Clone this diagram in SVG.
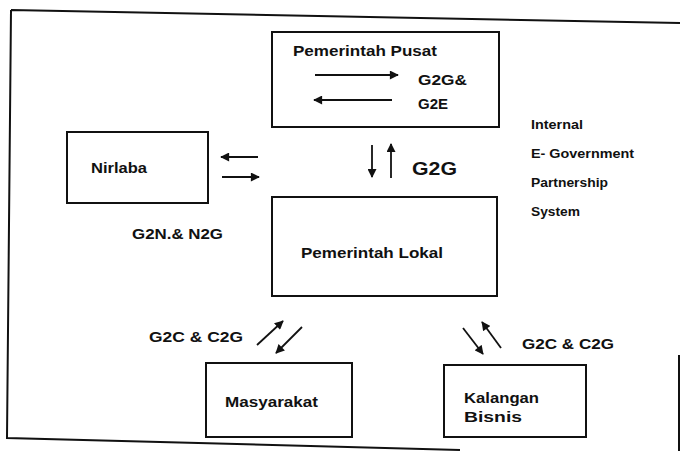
<svg xmlns="http://www.w3.org/2000/svg" width="680" height="451" viewBox="0 0 680 451">
<style>
.box{fill:#fff;stroke:#111;stroke-width:2}
.t{font-family:"Liberation Sans",Arial,sans-serif;font-weight:bold;font-size:15px;fill:#111}
.s{font-size:13.5px}
.big{font-size:19px}
.c{stroke:#111;stroke-width:1.8;fill:none;marker-end:url(#ah)}
</style>
<defs>
<marker id="ah" viewBox="0 0 10 10" refX="9" refY="5" markerWidth="5.5" markerHeight="5" orient="auto" markerUnits="strokeWidth">
<path d="M0,0 L10,5 L0,10 z" fill="#111"/>
</marker>
</defs>
<rect width="680" height="451" fill="#fff"/>
<path d="M11,10 L680,23 M11,10 L7,438 L460,450 M679,355 L679,451" fill="none" stroke="#111" stroke-width="2"/>
<g id="pusat">
<rect class="box" x="272" y="32" width="227" height="95"/>
<text class="t" x="293" y="56" textLength="144" lengthAdjust="spacingAndGlyphs">Pemerintah Pusat</text>
<text class="t" x="418" y="85" textLength="49" lengthAdjust="spacingAndGlyphs">G2G&amp;</text>
<text class="t" x="418" y="109" textLength="30" lengthAdjust="spacingAndGlyphs">G2E</text>
</g>
<g id="nirlaba">
<rect class="box" x="67" y="132" width="141" height="71"/>
<text class="t" x="91" y="173" textLength="56" lengthAdjust="spacingAndGlyphs">Nirlaba</text>
</g>
<g id="lokal">
<rect class="box" x="272" y="197" width="225" height="99"/>
<text class="t" x="301" y="258" textLength="142" lengthAdjust="spacingAndGlyphs">Pemerintah Lokal</text>
</g>
<g id="masyarakat">
<rect class="box" x="206" y="363" width="146" height="74"/>
<text class="t" x="225" y="407" textLength="93" lengthAdjust="spacingAndGlyphs">Masyarakat</text>
</g>
<g id="bisnis">
<rect class="box" x="444" y="365" width="142" height="72"/>
<text class="t" x="464" y="403" textLength="75" lengthAdjust="spacingAndGlyphs">Kalangan</text>
<text class="t" x="464" y="422" textLength="58" lengthAdjust="spacingAndGlyphs">Bisnis</text>
</g>
<g id="labels">
<text class="t" x="132" y="239" textLength="91" lengthAdjust="spacingAndGlyphs">G2N.&amp; N2G</text>
<text class="t big" x="412" y="175" textLength="45" lengthAdjust="spacingAndGlyphs">G2G</text>
<text class="t s" x="531" y="129" textLength="52" lengthAdjust="spacingAndGlyphs">Internal</text>
<text class="t s" x="531" y="158" textLength="103" lengthAdjust="spacingAndGlyphs">E- Government</text>
<text class="t s" x="531" y="187" textLength="77" lengthAdjust="spacingAndGlyphs">Partnership</text>
<text class="t s" x="531" y="216" textLength="49" lengthAdjust="spacingAndGlyphs">System</text>
<text class="t" x="149" y="342" textLength="94" lengthAdjust="spacingAndGlyphs">G2C &amp; C2G</text>
<text class="t" x="522" y="349" textLength="92" lengthAdjust="spacingAndGlyphs">G2C &amp; C2G</text>
</g>
<g id="connectors">
<line class="c" x1="315" y1="75" x2="398" y2="75"/>
<line class="c" x1="392" y1="100" x2="314" y2="100"/>
<line class="c" x1="258" y1="157" x2="221" y2="157"/>
<line class="c" x1="222" y1="177" x2="259" y2="177"/>
<line class="c" x1="372" y1="145" x2="372" y2="177"/>
<line class="c" x1="391" y1="178" x2="391" y2="144"/>
<line class="c" x1="257" y1="345" x2="283" y2="321"/>
<line class="c" x1="302" y1="327" x2="276" y2="353"/>
<line class="c" x1="463" y1="328" x2="483" y2="354"/>
<line class="c" x1="501" y1="348" x2="482" y2="322"/>
</g>
</svg>
